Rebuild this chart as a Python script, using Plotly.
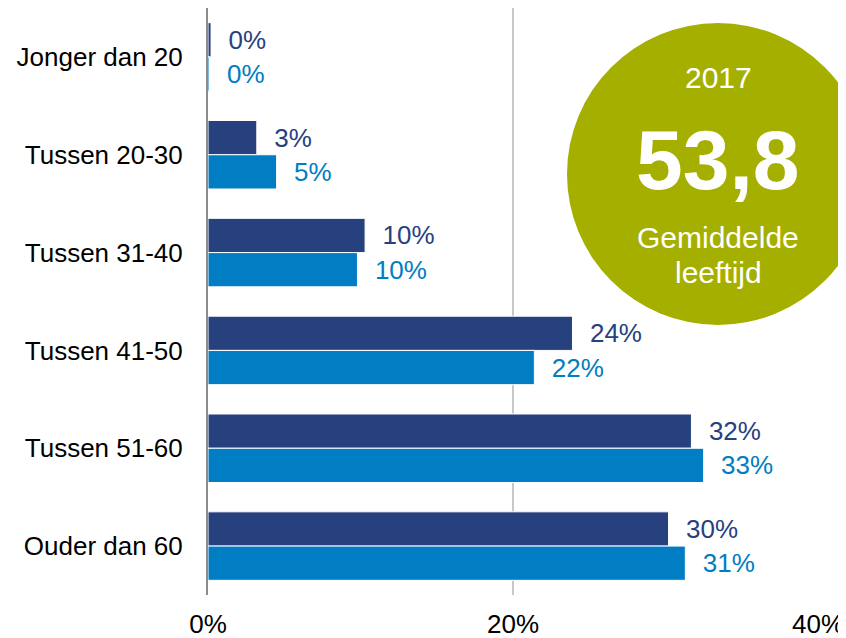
#!/usr/bin/env python3
# -*- coding:utf-8 -*-

import plotly.graph_objects as go


# age groups, top to bottom
CATEGORIES = [
	'Jonger dan 20',
	'Tussen 20-30',
	'Tussen 31-40',
	'Tussen 41-50',
	'Tussen 51-60',
	'Ouder dan 60',
]

# share per age group (%)
VALUES_DARK  = [0.2, 3.2, 10.3, 23.9, 31.7, 30.2]
VALUES_LIGHT = [0.1, 4.5, 9.8, 21.4, 32.5, 31.3]

# labels as printed next to the bars
LABELS_DARK  = ['0%', '3%', '10%', '24%', '32%', '30%']
LABELS_LIGHT = ['0%', '5%', '10%', '22%', '33%', '31%']

X_TICKS = [0, 20, 40]

BADGE_YEAR  = '2017'
BADGE_VALUE = '53,8'
BADGE_LINES = ['Gemiddelde', 'leeftijd']

DARK  = '#27417f'
LIGHT = '#007dc3'
OLIVE = '#a5af00'
FONT  = 'Arial, Liberation Sans, sans-serif'

# the page body adds an 8px margin, so the figure is 8px smaller than the window
PAGE_OFFSET = 8
FIG_W = 846 - PAGE_OFFSET
FIG_H = 638 - PAGE_OFFSET
MARGIN = dict(l=208 - PAGE_OFFSET, r=28, t=0, b=43)


def AddSeries(fig, values, labels, color):
	fig.add_trace(
		go.Bar(
			x=values,
			y=CATEGORIES,
			orientation='h',
			marker=dict(color=color, line=dict(color='white', width=1)),
			text=['\u00a0\u00a0' + t for t in labels],
			textposition='outside',
			outsidetextfont=dict(color=color, size=26, family=FONT),
			constraintext='none',
			cliponaxis=False,
			showlegend=False,
			hoverinfo='skip',
		)
	)


def main():
	fig = go.Figure()
	AddSeries(fig, VALUES_DARK, LABELS_DARK, DARK)
	AddSeries(fig, VALUES_LIGHT, LABELS_LIGHT, LIGHT)

	fig.update_layout(
		width=FIG_W,
		height=FIG_H,
		autosize=False,
		margin=MARGIN,
		paper_bgcolor='white',
		plot_bgcolor='white',
		barmode='group',
		bargap=0.3,
		bargroupgap=0.0,
		font=dict(family=FONT, size=26, color='black'),
	)
	fig.update_xaxes(
		range=[0, 40],
		tickmode='array',
		tickvals=X_TICKS,
		ticktext=['%d%%' % v for v in X_TICKS],
		showgrid=True,
		gridcolor='#c8c8c8',
		gridwidth=1.5,
		zeroline=False,
		showline=False,
		ticks='',
		ticklabelstandoff=11,
		automargin=False,
		tickfont=dict(size=26),
	)
	fig.update_yaxes(
		categoryorder='array',
		categoryarray=CATEGORIES,
		autorange='reversed',
		showgrid=False,
		showline=True,
		linecolor='#8c8c8c',
		linewidth=2,
		ticks='',
		ticklabelstandoff=18,
		automargin=False,
		tickfont=dict(size=26),
	)

	# olive badge with the average age (page pixel positions -> paper coords)
	plotL = 208
	plotW = 610
	plotB = 595
	plotH = 587
	cx = (718 - plotL) / plotW
	cy = (plotB - 174) / plotH
	fig.add_shape(
		type='circle',
		xref='paper', yref='paper',
		xsizemode='pixel', ysizemode='pixel',
		xanchor=cx, yanchor=cy,
		x0=-151, x1=151, y0=-151, y1=151,
		fillcolor=OLIVE,
		line=dict(width=0),
		layer='above',
	)
	badgeTexts = [
		(BADGE_YEAR, 78, 30, False),
		(BADGE_VALUE, 160, 84, True),
		(BADGE_LINES[0], 238, 30, False),
		(BADGE_LINES[1], 272, 30, False),
	]
	for txt, py, size, bold in badgeTexts:
		fig.add_annotation(
			text='<b>%s</b>' % txt if bold else txt,
			xref='paper', yref='paper',
			x=cx, y=(plotB - py) / plotH,
			xanchor='center', yanchor='middle',
			showarrow=False,
			font=dict(color='white', size=size, family=FONT),
		)

	fig.write_html('out.html')


if __name__ == '__main__':
	main()
